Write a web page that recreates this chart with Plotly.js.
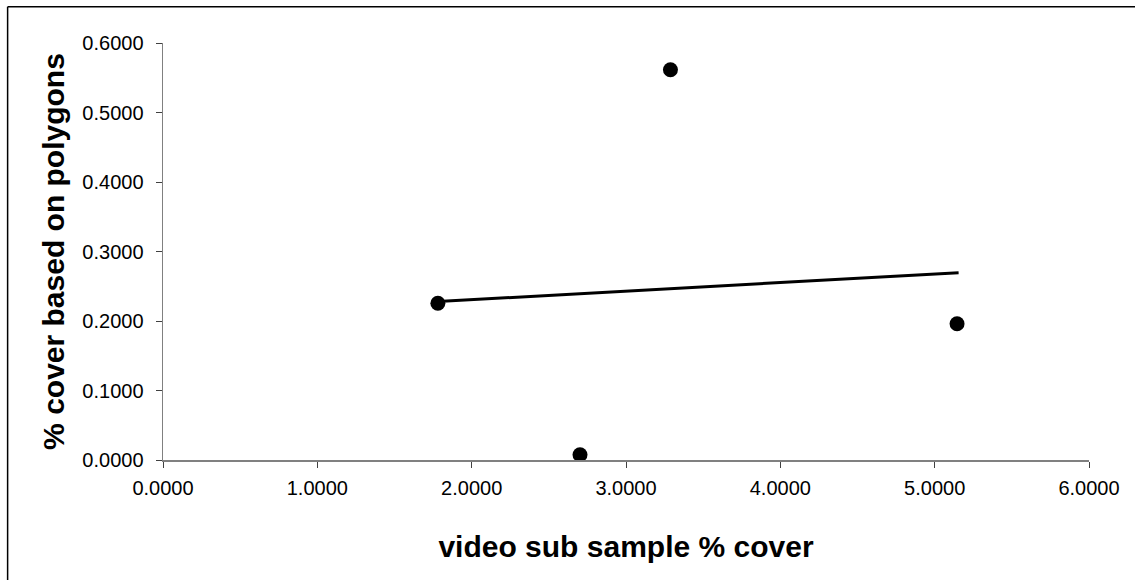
<!DOCTYPE html>
<html>
<head>
<meta charset="utf-8">
<script src="https://cdn.plot.ly/plotly-3.0.1.min.js"></script>
<style>
  html, body { margin: 0; padding: 0; background: #ffffff; }
  #chart { width: 1135px; height: 580px; }
</style>
</head>
<body>
<div id="chart"></div>
<script>
// Data
const videoCover = [1.781, 3.288, 2.702, 5.145];     // x: video sub sample % cover
const polygonCover = [0.2256, 0.5615, 0.0076, 0.196]; // y: % cover based on polygons
const trendX = [1.781, 5.155];                        // trend line ends (x)
const trendY = [0.228, 0.2695];                       // trend line ends (y)

const xTitle = 'video sub sample % cover';
const yTitle = '% cover based on polygons';

const font = 'Arial, "Liberation Sans", Helvetica, sans-serif';

const traces = [
  {
    x: trendX, y: trendY, type: 'scatter', mode: 'lines',
    line: { color: '#000000', width: 3 },
    hoverinfo: 'skip', showlegend: false
  },
  {
    x: videoCover, y: polygonCover, type: 'scatter', mode: 'markers',
    marker: { color: '#000000', size: 15 },
    showlegend: false
  }
];

const layout = {
  width: 1135, height: 580,
  paper_bgcolor: '#ffffff', plot_bgcolor: '#ffffff',
  margin: { l: 163.3, r: 46.3, t: 43.3, b: 120, pad: 0 },
  showlegend: false,
  font: { family: font, color: '#000000', size: 20 },
  xaxis: {
    range: [0, 6], dtick: 1, tick0: 0, tickformat: '.4f',
    showgrid: false, zeroline: false,
    showline: true, linecolor: '#808080', linewidth: 1.5,
    ticks: 'outside', ticklen: 6, tickcolor: '#404040', tickwidth: 1,
    ticklabelstandoff: 3,
    tickfont: { family: font, size: 20, color: '#000000' },
    title: { text: '<b>' + xTitle + '</b>', font: { family: font, size: 30, color: '#000000' }, standoff: 38 },
    automargin: false, fixedrange: true
  },
  yaxis: {
    range: [0, 0.6], dtick: 0.1, tick0: 0, tickformat: '.4f',
    showgrid: false, zeroline: false,
    showline: true, linecolor: '#808080', linewidth: 1.5,
    ticks: 'outside', ticklen: 6, tickcolor: '#404040', tickwidth: 1,
    ticklabelstandoff: 8,
    tickfont: { family: font, size: 20, color: '#000000' },
    title: { text: '<b>' + yTitle + '</b>', font: { family: font, size: 30, color: '#000000' }, standoff: 9 },
    automargin: false, fixedrange: true
  },
  shapes: [
    { type: 'line', xref: 'paper', yref: 'paper', x0: -0.1678, x1: 1.2, y0: 1.0871, y1: 1.0871,
      line: { color: '#000000', width: 1.5 } },
    { type: 'line', xref: 'paper', yref: 'paper', x0: -0.1678, x1: -0.1678, y0: -0.4, y1: 1.0871,
      line: { color: '#000000', width: 1.5 } }
  ]
};

Plotly.newPlot('chart', traces, layout, { displayModeBar: false, staticPlot: true });
</script>
</body>
</html>
